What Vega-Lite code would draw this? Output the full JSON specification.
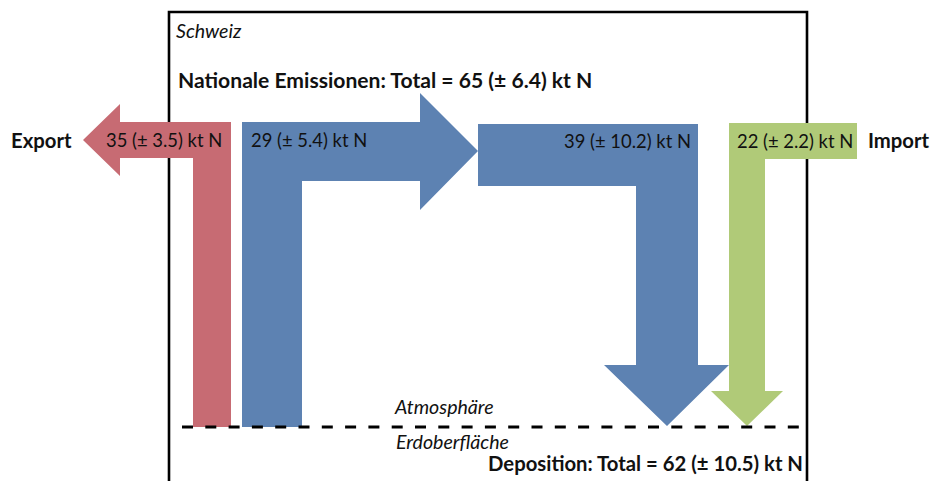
{
  "$schema": "https://vega.github.io/schema/vega-lite/v6.json",
  "width": 935,
  "height": 481,
  "padding": 0,
  "autosize": "none",
  "background": "white",
  "config": {"view": {"stroke": null}},
  "datasets": {
    "box": [
      {"p": 1, "x": 169, "y": 481},
      {"p": 2, "x": 169, "y": 12},
      {"p": 3, "x": 807, "y": 12},
      {"p": 4, "x": 807, "y": 481}
    ],
    "flows": [
      {"flow": "Export", "i": 1, "x": 83, "y": 140},
      {"flow": "Export", "i": 2, "x": 120, "y": 104},
      {"flow": "Export", "i": 3, "x": 120, "y": 122},
      {"flow": "Export", "i": 4, "x": 231, "y": 122},
      {"flow": "Export", "i": 5, "x": 231, "y": 427},
      {"flow": "Export", "i": 6, "x": 193, "y": 427},
      {"flow": "Export", "i": 7, "x": 193, "y": 158},
      {"flow": "Export", "i": 8, "x": 120, "y": 158},
      {"flow": "Export", "i": 9, "x": 120, "y": 176},
      {"flow": "Emission", "i": 1, "x": 242, "y": 122},
      {"flow": "Emission", "i": 2, "x": 420, "y": 122},
      {"flow": "Emission", "i": 3, "x": 420, "y": 93},
      {"flow": "Emission", "i": 4, "x": 478, "y": 151},
      {"flow": "Emission", "i": 5, "x": 420, "y": 210},
      {"flow": "Emission", "i": 6, "x": 420, "y": 181},
      {"flow": "Emission", "i": 7, "x": 302, "y": 181},
      {"flow": "Emission", "i": 8, "x": 302, "y": 427},
      {"flow": "Emission", "i": 9, "x": 242, "y": 427},
      {"flow": "Inland", "i": 1, "x": 478, "y": 124},
      {"flow": "Inland", "i": 2, "x": 698, "y": 124},
      {"flow": "Inland", "i": 3, "x": 698, "y": 365},
      {"flow": "Inland", "i": 4, "x": 729, "y": 365},
      {"flow": "Inland", "i": 5, "x": 667, "y": 426},
      {"flow": "Inland", "i": 6, "x": 604, "y": 365},
      {"flow": "Inland", "i": 7, "x": 636, "y": 365},
      {"flow": "Inland", "i": 8, "x": 636, "y": 186},
      {"flow": "Inland", "i": 9, "x": 478, "y": 186},
      {"flow": "Import", "i": 1, "x": 857, "y": 123},
      {"flow": "Import", "i": 2, "x": 857, "y": 159},
      {"flow": "Import", "i": 3, "x": 765, "y": 159},
      {"flow": "Import", "i": 4, "x": 765, "y": 391},
      {"flow": "Import", "i": 5, "x": 783, "y": 391},
      {"flow": "Import", "i": 6, "x": 747, "y": 426},
      {"flow": "Import", "i": 7, "x": 711, "y": 391},
      {"flow": "Import", "i": 8, "x": 729, "y": 391},
      {"flow": "Import", "i": 9, "x": 729, "y": 123}
    ],
    "surface": [{"x": 182, "x2": 808, "y": 427}],
    "valuesLeft": [
      {"label": "35 (± 3.5) kt N", "x": 106, "y": 141},
      {"label": "29 (± 5.4) kt N", "x": 251, "y": 141},
      {"label": "22 (± 2.2) kt N", "x": 737, "y": 142}
    ],
    "valuesRight": [
      {"label": "39 (± 10.2) kt N", "x": 691, "y": 142}
    ],
    "boldLeft": [
      {"label": "Export", "x": 11, "y": 142},
      {"label": "Import", "x": 868, "y": 142}
    ],
    "title": [
      {"label": "Nationale Emissionen: Total = 65 (± 6.4) kt N", "x": 178, "y": 82}
    ],
    "boldRight": [
      {"label": "Deposition: Total = 62 (± 10.5) kt N", "x": 803, "y": 465}
    ],
    "italic": [
      {"label": "Schweiz", "x": 176, "y": 32},
      {"label": "Atmosphäre", "x": 395, "y": 408},
      {"label": "Erdoberfläche", "x": 396, "y": 443}
    ]
  },
  "encoding": {
    "x": {"field": "x", "type": "quantitative", "scale": {"domain": [0, 935], "nice": false, "zero": false}, "axis": null},
    "y": {"field": "y", "type": "quantitative", "scale": {"domain": [0, 481], "nice": false, "zero": false, "reverse": true}, "axis": null}
  },
  "layer": [
    {
      "data": {"name": "box"},
      "mark": {"type": "line", "color": "black", "strokeWidth": 2.6, "strokeJoin": "miter", "clip": true},
      "encoding": {"order": {"field": "p", "type": "quantitative"}}
    },
    {
      "data": {"name": "flows"},
      "mark": {"type": "line", "strokeWidth": 0, "interpolate": "linear"},
      "encoding": {
        "detail": {"field": "flow", "type": "nominal"},
        "order": {"field": "i", "type": "quantitative"},
        "fill": {"field": "flow", "type": "nominal", "legend": null,
          "scale": {"domain": ["Export", "Emission", "Inland", "Import"], "range": ["#C76B73", "#5D82B2", "#5D82B2", "#B0CA78"]}}
      }
    },
    {
      "data": {"name": "surface"},
      "mark": {"type": "rule", "color": "black", "strokeWidth": 3, "strokeDash": [11, 12.3]},
      "encoding": {"x2": {"field": "x2"}}
    },
    {
      "data": {"name": "valuesLeft"},
      "mark": {"type": "text", "align": "left", "baseline": "middle", "font": "Lato", "fontSize": 18.4, "color": "#111"},
      "encoding": {"text": {"field": "label"}}
    },
    {
      "data": {"name": "valuesRight"},
      "mark": {"type": "text", "align": "right", "baseline": "middle", "font": "Lato", "fontSize": 18.4, "color": "#111"},
      "encoding": {"text": {"field": "label"}}
    },
    {
      "data": {"name": "boldLeft"},
      "mark": {"type": "text", "align": "left", "baseline": "middle", "font": "Lato", "fontSize": 20.3, "fontWeight": "bold", "color": "#111"},
      "encoding": {"text": {"field": "label"}}
    },
    {
      "data": {"name": "title"},
      "mark": {"type": "text", "align": "left", "baseline": "middle", "font": "Lato", "fontSize": 21.1, "fontWeight": "bold", "color": "#111"},
      "encoding": {"text": {"field": "label"}}
    },
    {
      "data": {"name": "boldRight"},
      "mark": {"type": "text", "align": "right", "baseline": "middle", "font": "Lato", "fontSize": 20.3, "fontWeight": "bold", "color": "#111"},
      "encoding": {"text": {"field": "label"}}
    },
    {
      "data": {"name": "italic"},
      "mark": {"type": "text", "align": "left", "baseline": "middle", "font": "Lato", "fontSize": 19.6, "fontStyle": "italic", "color": "#111"},
      "encoding": {"text": {"field": "label"}}
    }
  ]
}
